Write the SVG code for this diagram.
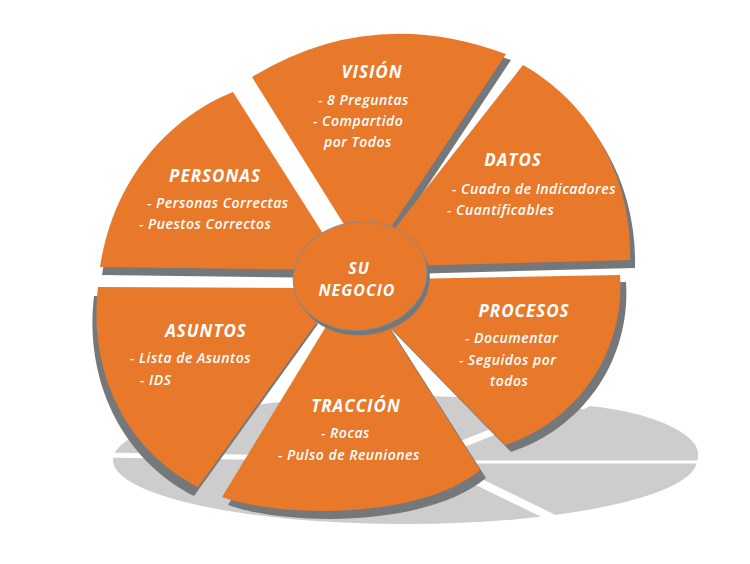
<svg xmlns="http://www.w3.org/2000/svg" width="750" height="564" viewBox="0 0 750 564">
<style>
.top{fill:#E8782A}
.side{fill:#75787A}
.shadow{fill:#CDCDCD}
.gap{stroke:#FFFFFF;fill:none}
.h{font-family:"Open Sans","Liberation Sans",sans-serif;font-weight:700;font-style:italic;font-size:17px;letter-spacing:1px;fill:#FFFFFF;text-anchor:middle}
.c{font-size:16px}
.t{font-family:"Open Sans","Liberation Sans",sans-serif;font-weight:600;font-style:italic;font-size:14px;letter-spacing:0.5px;fill:#FFFFFF}
</style>
<rect width="750" height="564" fill="#FFFFFF"/>
<g id="shadow">
<ellipse class="shadow" cx="405" cy="460" rx="292" ry="64"/>
<path class="shadow" d="M460,459 L573,415 L590,406 C650,412 695,432 698,452 L698,459 Z"/>
<line class="gap" x1="100" y1="455" x2="300" y2="458" stroke-width="5"/>
<line class="gap" x1="470" y1="462" x2="710" y2="462" stroke-width="3"/>
<line class="gap" x1="450" y1="468" x2="565" y2="524" stroke-width="8"/>
<line class="gap" x1="455" y1="447" x2="500" y2="429" stroke-width="7"/>
</g>
<g id="vision">
<path class="side" transform="translate(5,6)" d="M252,77 Q371,4 506,54 L376,250 L360,250 Z"/>
<path class="top" d="M252,77 Q371,4 506,54 L376,250 L360,250 Z"/>
<text class="h" x="372" y="78">VISIÓN</text>
<text class="t" x="318" y="105">- 8 Preguntas</text>
<text class="t" x="313" y="126">- Compartido</text>
<text class="t" x="324" y="147">por Todos</text>
</g>
<g id="personas">
<path class="side" transform="translate(2,8)" d="M233,92 C168,118 113,180 100,267 L335,270 L341,262 Z"/>
<path class="top" d="M233,92 C168,118 113,180 100,267 L335,270 L341,262 Z"/>
<text class="h" x="215" y="182">PERSONAS</text>
<text class="t" x="147" y="208">- Personas Correctas</text>
<text class="t" x="139" y="229">- Puestos Correctos</text>
</g>
<g id="datos">
<path class="side" transform="translate(5,8)" d="M523,65 C585,100 632,170 630,260 L400,266 L378,250 Z"/>
<path class="top" d="M523,65 C585,100 632,170 630,260 L400,266 L378,250 Z"/>
<text class="h" x="513" y="166">DATOS</text>
<text class="t" x="452" y="194">- Cuadro de Indicadores</text>
<text class="t" x="447" y="215">- Cuantificables</text>
</g>
<g id="asuntos">
<path class="side" transform="translate(-4,9)" d="M98,287 L300,288 L322,315 L198,487 C125,450 88,370 98,287 Z"/>
<path class="top" d="M98,287 L300,288 L322,315 L198,487 C125,450 88,370 98,287 Z"/>
<text class="h" x="206" y="337">ASUNTOS</text>
<text class="t" x="130" y="363">- Lista de Asuntos</text>
<text class="t" x="140" y="385">- IDS</text>
</g>
<g id="procesos">
<path class="side" transform="translate(6,7)" d="M405,279 L620,275 C625,350 580,420 505,445 L385,322 Z"/>
<path class="top" d="M405,279 L620,275 C625,350 580,420 505,445 L385,322 Z"/>
<text class="h" x="524" y="317">PROCESOS</text>
<text class="t" x="465" y="343">- Documentar</text>
<text class="t" x="459" y="365">- Seguidos por</text>
<text class="t" x="490" y="386">todos</text>
</g>
<g id="traccion">
<path class="side" transform="translate(6,8)" d="M222,497 L333,315 L383,318 L480,470 C420,520 280,518 222,497 Z"/>
<path class="top" d="M222,497 L333,315 L383,318 L480,470 C420,520 280,518 222,497 Z"/>
<text class="h" x="356" y="412">TRACCIÓN</text>
<text class="t" x="321" y="438">- Rocas</text>
<text class="t" x="278" y="460">- Pulso de Reuniones</text>
</g>
<g id="su-negocio">
<ellipse class="side" cx="363" cy="281" rx="67" ry="54" transform="rotate(-8 363 281)"/>
<ellipse class="top" cx="360" cy="276" rx="67" ry="54" transform="rotate(-8 360 276)" stroke="#8A8A8A" stroke-width="1"/>
<text class="h c" x="359" y="274">SU</text>
<text class="h c" x="357" y="296">NEGOCIO</text>
</g>
</svg>
